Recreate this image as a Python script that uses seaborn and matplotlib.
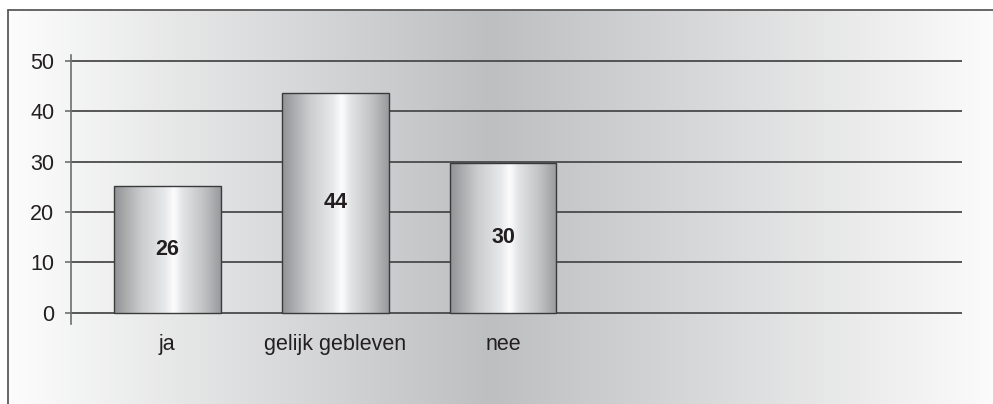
import numpy as np
import pandas as pd
import matplotlib
matplotlib.use("Agg")
import matplotlib.pyplot as plt
from matplotlib.colors import LinearSegmentedColormap
from matplotlib.lines import Line2D
import seaborn as sns

# ---- data ----
categories = ["ja", "gelijk gebleven", "nee"]
values = [25.2, 43.6, 29.7]          # bar heights
value_labels = ["26", "44", "30"]    # labels printed in the bars
yticks = [0, 10, 20, 30, 40, 50]

sns.set_style("white")
plt.rcParams["font.family"] = ["Liberation Sans", "DejaVu Sans"]

W, H = 993, 404
fig = plt.figure(figsize=(W / 100, H / 100), dpi=100)
fig.patch.set_facecolor("white")

# ---- background gradient panel with border (left & top) ----
bx0, by_top = 8 / W, 1 - 10 / H
bg = fig.add_axes([bx0, 0, 1 - bx0, by_top], zorder=0)
bg_cmap = LinearSegmentedColormap.from_list(
    "bg", [(0.0, (0.99, 0.99, 0.99)), (0.49, (0.745, 0.749, 0.757)),
           (1.0, (0.985, 0.985, 0.985))])
bg.imshow(np.linspace(0, 1, 512)[None, :], cmap=bg_cmap, aspect="auto",
          extent=[0, 1, 0, 1], vmin=0, vmax=1)
bg.set_axis_off()
fig.add_artist(Line2D([bx0, bx0], [0, by_top], color="#5a5a5a", lw=1.3))
fig.add_artist(Line2D([bx0, 1], [by_top, by_top], color="#5a5a5a", lw=1.3))

# ---- main axes ----
ax = fig.add_axes([71 / W, (H - 324) / H, (962 - 71) / W, (324 - 55) / H], zorder=1)
ax.patch.set_alpha(0)

df = pd.DataFrame({"cat": categories, "val": values})
sns.barplot(data=df, x="cat", y="val", ax=ax, width=0.636, color="white",
            edgecolor="#3a3a3a", linewidth=1.0, zorder=2)

bar_cmap = LinearSegmentedColormap.from_list(
    "metal", [(0.0, (0.57, 0.575, 0.585)), (0.25, (0.79, 0.795, 0.80)),
              (0.48, (0.91, 0.915, 0.92)), (0.56, (0.99, 0.99, 0.99)),
              (0.64, (0.89, 0.895, 0.90)), (0.85, (0.75, 0.755, 0.76)),
              (1.0, (0.60, 0.605, 0.615))])
grad = np.linspace(0, 1, 256)[None, :]
for p in ax.patches:
    x0, w, h = p.get_x(), p.get_width(), p.get_height()
    p.set_facecolor("none")
    im = ax.imshow(grad, cmap=bar_cmap, aspect="auto", extent=[x0, x0 + w, 0, h],
                   zorder=1.8, vmin=0, vmax=1)
    im.set_clip_path(p)

ax.bar_label(ax.containers[0], labels=value_labels, label_type="center",
             fontsize=15.5, fontweight="bold", color="#231f20")

ax.set_xlim(-0.574, 4.735)
ax.set_ylim(-2.25, 51.2)
ax.set_yticks(yticks)
ax.set_xlabel("")
ax.set_ylabel("")

ax.yaxis.grid(True, color="#4a4a4a", lw=1.3)
ax.set_axisbelow(True)
for s in ["top", "right", "bottom"]:
    ax.spines[s].set_visible(False)
ax.spines["left"].set_color("#6e6e6e")
ax.spines["left"].set_linewidth(1.2)
ax.tick_params(axis="y", left=True, length=4, width=1.2, color="#6e6e6e",
               pad=8, labelsize=15.5, labelcolor="#231f20")
ax.tick_params(axis="x", bottom=False, length=0, pad=7, labelsize=15.5,
               labelcolor="#231f20")

fig.savefig("out.png", dpi=100)
